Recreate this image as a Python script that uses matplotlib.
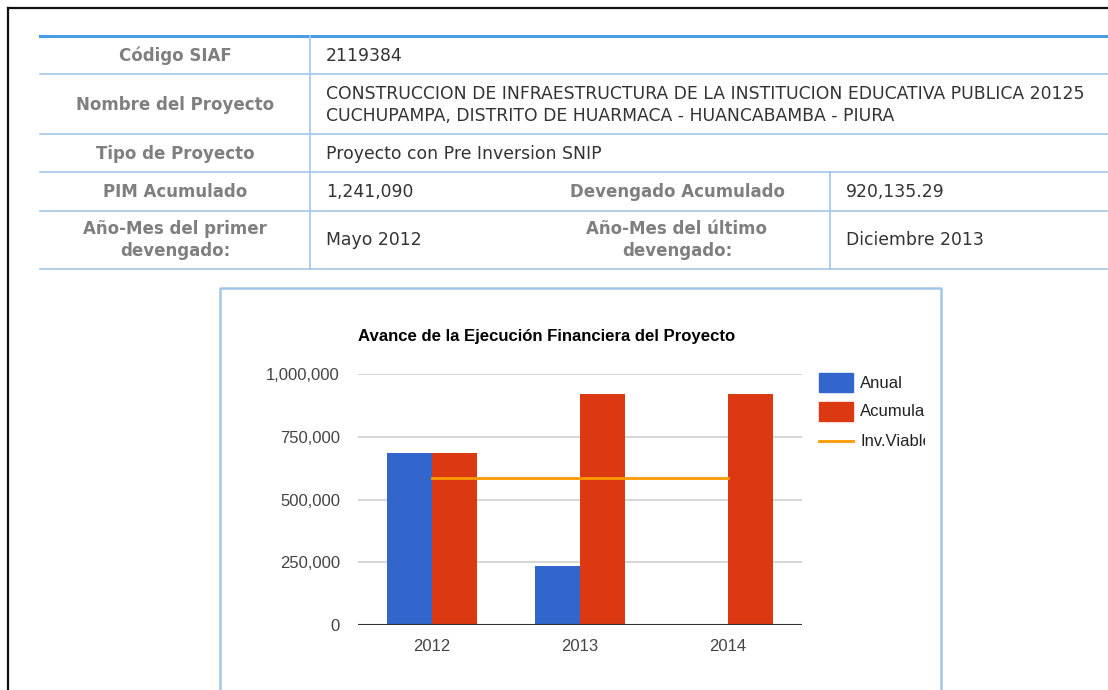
import matplotlib.pyplot as plt
import numpy as np
from matplotlib.patches import Rectangle
from matplotlib.ticker import FuncFormatter
from matplotlib.transforms import Bbox, TransformedBbox

W, H = 1108, 690
DPI = 100

YEARS = ["2012", "2013", "2014"]
ANUAL = [686500, 233635, 0]
ACUMULADO = [686500, 920135.29, 920135.29]
INV_VIABLE = [585000, 585000, 585000]
Y_TICKS = [0, 250000, 500000, 750000, 1000000]

TABLE_ROWS = [
    ("Código SIAF", "2119384"),
    ("Nombre del Proyecto",
     "CONSTRUCCION DE INFRAESTRUCTURA DE LA INSTITUCION EDUCATIVA PUBLICA 20125\n"
     "CUCHUPAMPA, DISTRITO DE HUARMACA - HUANCABAMBA - PIURA"),
    ("Tipo de Proyecto", "Proyecto con Pre Inversion SNIP"),
    ("PIM Acumulado", "1,241,090"),
    ("Año-Mes del primer\ndevengado:", "Mayo 2012"),
]
TABLE_RIGHT = [
    ("Devengado Acumulado", "920,135.29"),
    ("Año-Mes del último\ndevengado:", "Diciembre 2013"),
]

BLUE = "#3366CC"
RED = "#DC3912"
ORANGE = "#FF9900"
LINE_BLUE = "#a3c6e8"
TOP_BLUE = "#4a9de0"
LABEL_GRAY = "#7f7f7f"
VALUE_DARK = "#333333"

LABEL_SIZE = 12.0
VALUE_SIZE = 12.4


def px_axes(fig, x0, y0, x1, y1):
    # pixel box (top-left origin) -> figure axes
    return fig.add_axes([x0 / W, 1 - y1 / H, (x1 - x0) / W, (y1 - y0) / H])


def draw_page(ax):
    ax.set_xlim(0, W)
    ax.set_ylim(H, 0)
    ax.axis("off")

    # outer frame of the screenshot
    ax.plot([8, W], [8, 8], color="#111111", lw=1.6)
    ax.plot([8, 8], [8, H], color="#111111", lw=1.6)

    # table lines
    ax.plot([40, W], [36, 36], color=TOP_BLUE, lw=2.2)
    for y in [74, 134, 172, 211, 269]:
        ax.plot([40, W], [y, y], color=LINE_BLUE, lw=1.2)
    ax.plot([310, 310], [36, 269], color=LINE_BLUE, lw=1.2)
    ax.plot([830, 830], [172, 269], color=LINE_BLUE, lw=1.2)

    centers = [56, 105, 154, 192, 240]
    for (label, value), yc in zip(TABLE_ROWS, centers):
        ax.text(175, yc, label, ha="center", va="center", color=LABEL_GRAY,
                fontweight="bold", linespacing=1.28, family="DejaVu Sans",
                fontsize=LABEL_SIZE)
        ax.text(326, yc, value, ha="left", va="center", color=VALUE_DARK,
                linespacing=1.3, family="DejaVu Sans", fontsize=VALUE_SIZE)
    for (label, value), yc in zip(TABLE_RIGHT, centers[3:]):
        ax.text(677, yc, label, ha="center", va="center", color=LABEL_GRAY,
                fontweight="bold", linespacing=1.28, family="DejaVu Sans",
                fontsize=LABEL_SIZE)
        ax.text(846, yc, value, ha="left", va="center", color=VALUE_DARK,
                family="DejaVu Sans", fontsize=VALUE_SIZE)

    # chart frame
    ax.plot([220, 220, 941, 941], [H + 5, 288, 288, H + 5], color=LINE_BLUE, lw=1.8)


def draw_chart(fig, page_ax):
    ax = px_axes(fig, 358, 374, 802, 625)
    x = np.arange(len(YEARS))
    bw = 0.302
    ax.bar(x - bw / 2, ANUAL, width=bw, color=BLUE, label="Anual", zorder=3)
    ax.bar(x + bw / 2, ACUMULADO, width=bw, color=RED, label="Acumulado", zorder=3)
    ax.plot(x, INV_VIABLE, color=ORANGE, lw=2, label="Inv.Viable", zorder=4)

    ax.set_xlim(-0.5, len(YEARS) - 0.5)
    ax.set_ylim(0, 1000000)
    ax.set_yticks(Y_TICKS)
    ax.yaxis.set_major_formatter(FuncFormatter(lambda v, _: f"{v:,.0f}"))
    ax.set_xticks(x)
    ax.set_xticklabels(YEARS)
    for s in ax.spines.values():
        s.set_visible(False)
    for v in Y_TICKS[1:]:
        ax.axhline(v, color="#cccccc", lw=1.1, zorder=1)
    ax.axhline(0, color="#333333", lw=1.5, zorder=5)
    ax.tick_params(length=0, labelsize=12, colors="#444444")
    ax.tick_params(axis="y", pad=13)
    ax.tick_params(axis="x", pad=10)
    for t in ax.get_xticklabels() + ax.get_yticklabels():
        t.set_family("Liberation Sans")

    fig.text(358 / W, 1 - 337 / H, "Avance de la Ejecución Financiera del Proyecto",
             ha="left", va="center", fontsize=12.1, fontweight="bold",
             family="Liberation Sans", color="#000000")

    # legend on the page axes, text clipped at the chart's right edge
    clip = TransformedBbox(Bbox([[819, 360], [925, 460]]), page_ax.transData)
    page_ax.add_patch(Rectangle((819, 373), 34, 19, color=BLUE))
    page_ax.add_patch(Rectangle((819, 402), 34, 19, color=RED))
    page_ax.plot([819, 853], [441, 441], color=ORANGE, lw=2)
    for name, yc in zip(["Anual", "Acumulado", "Inv.Viable"], [383, 412, 441]):
        t = page_ax.text(860, yc, name, ha="left", va="center", fontsize=12,
                         family="Liberation Sans", color="#222222")
        t.set_clip_box(clip)
        t.set_clip_on(True)


def main():
    fig = plt.figure(figsize=(W / DPI, H / DPI), dpi=DPI)
    fig.patch.set_facecolor("white")
    page_ax = fig.add_axes([0, 0, 1, 1])
    draw_page(page_ax)
    draw_chart(fig, page_ax)
    fig.savefig("out.png", dpi=DPI)


if __name__ == "__main__":
    main()
